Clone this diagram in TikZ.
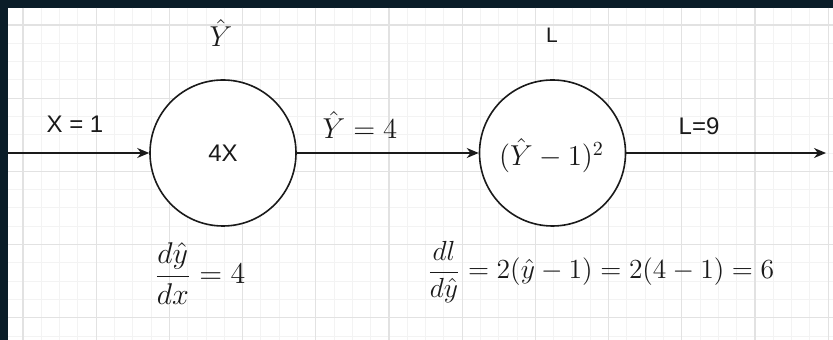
\RequirePackage{fix-cm}
\documentclass[tikz,border=0pt]{standalone}
\usepackage{fontspec}
\newfontfamily\arialfont{Liberation Sans}
\usetikzlibrary{arrows.meta}
\definecolor{framecol}{HTML}{0A1D28}
\definecolor{gmajor}{HTML}{E2E2E2}
\definecolor{gminor}{HTML}{F3F3F3}
\definecolor{ink}{HTML}{1A1A1A}
\begin{document}
\begin{tikzpicture}[x=0.5pt,y=-0.5pt,
  opnode/.style={circle,draw=ink,line width=0.8pt,minimum size=73pt,inner sep=0pt,fill=white},
  flow/.style={draw=ink,line width=0.75pt,-{Stealth[length=6pt,width=5pt]}},
  sanslabel/.style={font=\arialfont\fontsize{12}{14}\selectfont,inner sep=0pt,text=ink},
  smallsans/.style={font=\arialfont\fontsize{10.5}{12}\selectfont,inner sep=0pt,text=ink},
  mathlabel/.style={font=\fontsize{14.4}{17}\selectfont,inner sep=0pt,text=ink},
  minorline/.style={draw=gminor,line width=0.5pt},
  majorline/.style={draw=gmajor,line width=0.6pt}]
\useasboundingbox (0,0) rectangle (833,340);
\fill[framecol] (0,0) rectangle (833,340);
\fill[white] (8,8) rectangle (833,340);
\begin{scope}
  \clip (8,8) rectangle (833,340);
  \foreach \k in {-1,...,45} { \path[minorline] ({23+18.3*\k},8) -- ({23+18.3*\k},340); }
  \foreach \k in {-1,...,18} { \path[minorline] (8,{25+18.3*\k}) -- (833,{25+18.3*\k}); }
  \foreach \k in {0,...,11} { \path[majorline] ({23+73.2*\k},8) -- ({23+73.2*\k},340); }
  \foreach \k in {0,...,4} { \path[majorline] (8,{25+73.2*\k}) -- (833,{25+73.2*\k}); }
\end{scope}

% operation nodes
\node[opnode] (f) at (223,153) {};
\node[opnode] (g) at (552.5,153) {};
\node[sanslabel,anchor=base] (ftxt) at (223,162) {4X};
\node[mathlabel,anchor=base] (gtxt) at (551.5,166) {$(\hat{Y}-1)^2$};

% connectors
\coordinate (in) at (8,153);
\coordinate (out) at (826,153);
\draw[flow] (in) -- (f.west);
\draw[flow] (f.east) -- (g.west);
\draw[flow] (g.east) -- (out);

% edge labels
\node[sanslabel,anchor=base] (xlab) at (75,133) {X = 1};
\node[mathlabel,anchor=base] (ylab) at (360,139) {$\hat{Y} = 4$};
\node[sanslabel,anchor=base] (llab) at (699,135) {L=9};

% node titles
\node[mathlabel,anchor=base] (ytitle) at (221,47) {$\hat{Y}$};
\node[smallsans,anchor=base] (ltitle) at (552,43) {L};

% derivatives
\node[mathlabel,font=\fontsize{15}{17}\selectfont,anchor=base west] (d1) at (154,284) {$\displaystyle \frac{d\hat{y}}{dx} = 4$};
\node[mathlabel,font=\fontsize{13.8}{16}\selectfont,anchor=base west] (d2) at (427,279) {$\displaystyle \frac{dl}{d\hat{y}} = 2(\hat{y}-1) = 2(4-1) = 6$};
\end{tikzpicture}
\end{document}
